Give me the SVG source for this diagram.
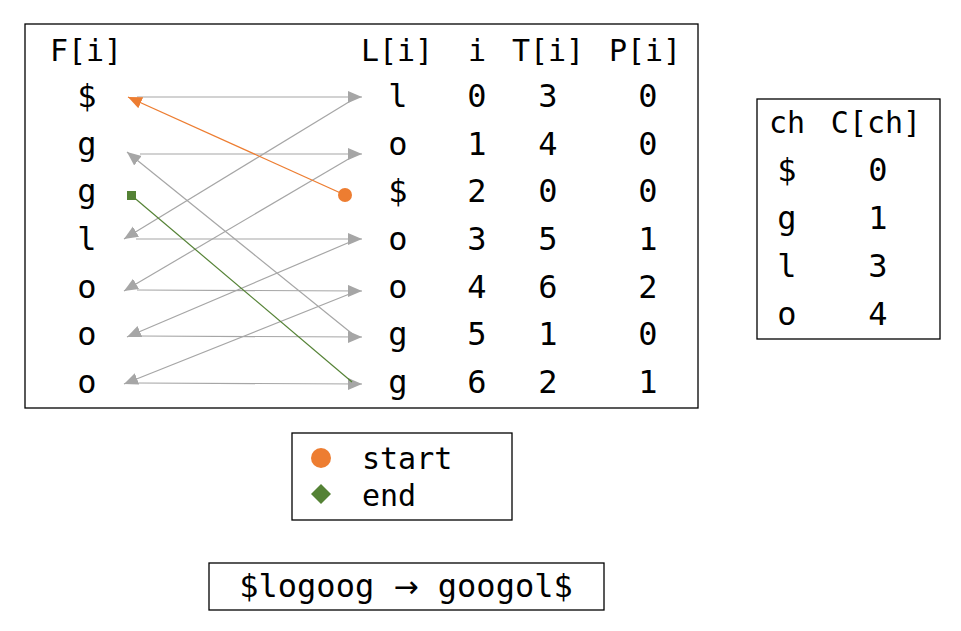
<svg xmlns="http://www.w3.org/2000/svg" width="961" height="631" viewBox="0 0 961 631">
<style>
.box{fill:#fff;stroke:#000;stroke-width:1.3}
.t{font-family:"DejaVu Sans Mono","Liberation Mono",monospace;font-size:32px;fill:#000;text-anchor:middle}
.h{font-family:"DejaVu Sans Mono","Liberation Mono",monospace;font-size:30px;fill:#000;text-anchor:middle}
.g{stroke:#a6a6a6;stroke-width:1.2;fill:none}
</style>
<defs>
<marker id="ag" markerUnits="userSpaceOnUse" markerWidth="16" markerHeight="14" refX="14" refY="6" orient="auto"><path d="M0,0 L14,6 L0,12 z" fill="#a6a6a6"/></marker>
<marker id="ao" markerUnits="userSpaceOnUse" markerWidth="16" markerHeight="14" refX="14" refY="6" orient="auto"><path d="M0,0 L14,6 L0,12 z" fill="#ed7d31"/></marker>
</defs>
<rect width="961" height="631" fill="#fff"/>
<g id="main-table">
<rect class="box" x="25" y="24" width="673" height="384"/>
<text class="h" x="86" y="61">F[i]</text>
<text class="h" x="397" y="61">L[i]</text>
<text class="h" x="477" y="61">i</text>
<text class="h" x="548" y="61">T[i]</text>
<text class="h" x="645" y="61">P[i]</text>
<g id="col-F">
<text class="t" x="87" y="107">$</text>
<text class="t" x="87" y="155">g</text>
<text class="t" x="87" y="202">g</text>
<text class="t" x="87" y="250">l</text>
<text class="t" x="87" y="298">o</text>
<text class="t" x="87" y="345">o</text>
<text class="t" x="87" y="393">o</text>
</g>
<g id="col-L">
<text class="t" x="398" y="107">l</text>
<text class="t" x="398" y="155">o</text>
<text class="t" x="398" y="202">$</text>
<text class="t" x="398" y="250">o</text>
<text class="t" x="398" y="298">o</text>
<text class="t" x="398" y="345">g</text>
<text class="t" x="398" y="393">g</text>
</g>
<g id="col-i">
<text class="t" x="477" y="107">0</text>
<text class="t" x="477" y="155">1</text>
<text class="t" x="477" y="202">2</text>
<text class="t" x="477" y="250">3</text>
<text class="t" x="477" y="298">4</text>
<text class="t" x="477" y="345">5</text>
<text class="t" x="477" y="393">6</text>
</g>
<g id="col-T">
<text class="t" x="548" y="107">3</text>
<text class="t" x="548" y="155">4</text>
<text class="t" x="548" y="202">0</text>
<text class="t" x="548" y="250">5</text>
<text class="t" x="548" y="298">6</text>
<text class="t" x="548" y="345">1</text>
<text class="t" x="548" y="393">2</text>
</g>
<g id="col-P">
<text class="t" x="648" y="107">0</text>
<text class="t" x="648" y="155">0</text>
<text class="t" x="648" y="202">0</text>
<text class="t" x="648" y="250">1</text>
<text class="t" x="648" y="298">2</text>
<text class="t" x="648" y="345">0</text>
<text class="t" x="648" y="393">1</text>
</g>
</g>
<g id="connectors">
<line class="g" x1="137" y1="97" x2="362" y2="97" marker-end="url(#ag)"/>
<line class="g" x1="140" y1="154" x2="362" y2="154" marker-end="url(#ag)"/>
<line class="g" x1="136" y1="239" x2="362" y2="239" marker-end="url(#ag)"/>
<line class="g" x1="137" y1="290" x2="362" y2="291" marker-end="url(#ag)"/>
<line class="g" x1="137" y1="336" x2="362" y2="337" marker-end="url(#ag)"/>
<line class="g" x1="137" y1="383" x2="362" y2="384" marker-end="url(#ag)"/>
<line class="g" x1="357" y1="97" x2="124" y2="239" marker-end="url(#ag)"/>
<line class="g" x1="357" y1="154" x2="124" y2="291" marker-end="url(#ag)"/>
<line class="g" x1="357" y1="239" x2="127" y2="337" marker-end="url(#ag)"/>
<line class="g" x1="357" y1="291" x2="124" y2="384" marker-end="url(#ag)"/>
<line class="g" x1="355" y1="336" x2="127" y2="152" marker-end="url(#ag)"/>
<line x1="352" y1="382" x2="131" y2="195" stroke="#548235" stroke-width="1.2"/>
<rect x="127" y="191" width="9" height="9" fill="#548235"/>
<line x1="345" y1="195" x2="128" y2="97" stroke="#ed7d31" stroke-width="1.3" marker-end="url(#ao)"/>
<circle cx="345" cy="195" r="7" fill="#ed7d31"/>
</g>
<g id="c-table">
<rect class="box" x="757" y="99" width="183" height="240"/>
<text class="h" x="787" y="133">ch</text>
<text class="h" x="876" y="133">C[ch]</text>
<text class="t" x="787" y="181">$</text>
<text class="t" x="787" y="229">g</text>
<text class="t" x="787" y="277">l</text>
<text class="t" x="787" y="325">o</text>
<text class="t" x="878" y="181">0</text>
<text class="t" x="878" y="229">1</text>
<text class="t" x="878" y="277">3</text>
<text class="t" x="878" y="325">4</text>
</g>
<g id="legend">
<rect class="box" x="292" y="433" width="220" height="87"/>
<circle cx="321" cy="458" r="10" fill="#ed7d31"/>
<path d="M321,484 L331,494 L321,504 L311,494 z" fill="#548235"/>
<text class="h" x="362" y="469" style="text-anchor:start">start</text>
<text class="h" x="362" y="506" style="text-anchor:start">end</text>
</g>
<g id="transform">
<rect class="box" x="209" y="563" width="395" height="47"/>
<text class="t" x="406" y="597">$logoog <tspan style="font-family:'DejaVu Sans',sans-serif;font-size:30px">→</tspan> googol$</text>
</g>
</svg>
